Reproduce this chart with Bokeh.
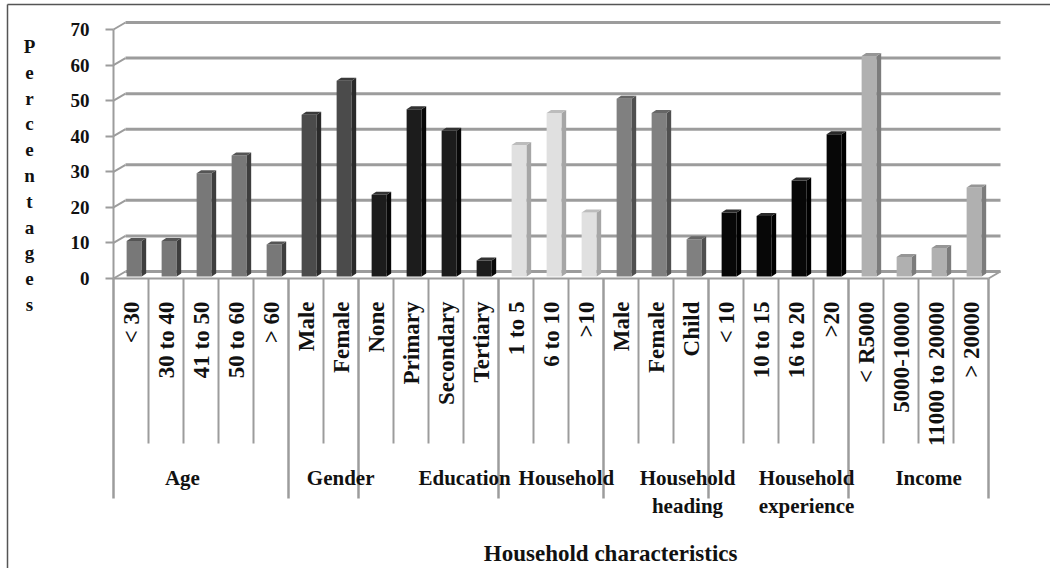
from math import pi
from bokeh.plotting import figure
from bokeh.models import Range1d, LinearAxis, FixedTicker
from bokeh.core.properties import value
from bokeh.embed import file_html
from bokeh.resources import INLINE

# ---------------- data ----------------
categories = ["< 30", "30 to 40", "41 to 50", "50 to 60", "> 60",
              "Male", "Female",
              "None", "Primary", "Secondary", "Tertiary",
              "1 to 5", "6 to 10", ">10",
              "Male", "Female", "Child",
              "< 10", "10 to 15", "16 to 20", ">20",
              "< R5000", "5000-10000", "11000 to 20000", "> 20000"]
values = [10, 10, 29, 34, 9,
          45.5, 55,
          23, 47, 41, 4.5,
          37, 46, 18,
          50, 46, 10.5,
          18, 17, 27, 40,
          62, 5.5, 8, 25]
groups = ["Age", "Gender", "Education", "Household", "Household\nheading",
          "Household\nexperience", "Income"]
group_sizes = [5, 2, 4, 3, 3, 4, 4]
y_ticks = [0, 10, 20, 30, 40, 50, 60, 70]
y_label = "Percentages"
x_title = "Household  characteristics"

# ---------------- style ----------------
group_front = ["#787878", "#4b4b4b", "#1c1c1c", "#e0e0e0", "#808080", "#070707", "#b0b0b0"]
group_side = ["#3e3e3e", "#2a2a2a", "#080808", "#a6a6a6", "#505050", "#000000", "#7c7c7c"]
group_top = ["#555555", "#3a3a3a", "#333333", "#bcbcbc", "#666666", "#2a2a2a", "#969696"]
group_label_nudge = [-0.53, 0.49, 1.03, 0.44, 0.9, 0.8, 0.29]
FONT = value("Liberation Serif")
GRID = "#9c9c9c"
INK = "#111111"

W, H = 1050, 568
AXIS_PX = 113             # canvas x of the value axis
PX_X = 35.0
Y0 = 278.0
PX_Y = 3.557


def dx(px):
    return px / PX_X


def dy(px):
    return px / PX_Y


def ydata(cy):
    return (Y0 - cy) / PX_Y


def xdata(cx):
    return (cx - AXIS_PX) / PX_X


n = len(categories)
p = figure(width=W, height=H,
           x_range=Range1d(xdata(0), xdata(W)),
           y_range=Range1d(ydata(H), ydata(0)),
           output_backend="svg", toolbar_location=None,
           x_axis_location=None, y_axis_location=None,
           min_border_left=0, min_border_right=0,
           min_border_top=0, min_border_bottom=0)
p.grid.visible = False
p.outline_line_color = None
p.background_fill_color = "white"
p.border_fill_color = "white"

# ---------------- picture frame (left + top border) ----------------
p.segment(x0=[xdata(7), xdata(7)], y0=[ydata(4), ydata(4)],
          x1=[xdata(7), xdata(W)], y1=[ydata(H), ydata(4)],
          line_color="#555555", line_width=1.5)

# ---------------- 3D walls ----------------
WDX, WDY = dx(12), dy(7)
p.segment(x0=[WDX] * len(y_ticks), y0=[t + WDY for t in y_ticks],
          x1=[n + WDX] * len(y_ticks), y1=[t + WDY for t in y_ticks],
          line_color=GRID, line_width=3)
p.segment(x0=[0] * len(y_ticks), y0=y_ticks,
          x1=[WDX] * len(y_ticks), y1=[t + WDY for t in y_ticks],
          line_color=GRID, line_width=2)
p.segment(x0=[0, n], y0=[0, 0], x1=[n, n + WDX], y1=[0, WDY],
          line_color=GRID, line_width=2)

# ---------------- y axis ----------------
yax = LinearAxis(ticker=FixedTicker(ticks=y_ticks), bounds=(0, 70),
                 fixed_location=0,
                 axis_line_color=GRID, axis_line_width=2,
                 major_tick_out=8, major_tick_in=0,
                 major_tick_line_color=GRID, major_tick_line_width=2,
                 minor_tick_line_color=None,
                 major_label_text_font="Liberation Serif",
                 major_label_text_font_style="bold",
                 major_label_text_font_size="19px",
                 major_label_text_color=INK,
                 major_label_standoff=16)
p.add_layout(yax, "left")

# ---------------- bars ----------------
bar_colors_f, bar_colors_s, bar_colors_t = [], [], []
for gi, sz in enumerate(group_sizes):
    bar_colors_f += [group_front[gi]] * sz
    bar_colors_s += [group_side[gi]] * sz
    bar_colors_t += [group_top[gi]] * sz

BAR_W, BAR_SHIFT = 0.43, 0.09
SDX, SDY = dx(4.5), dy(3)
LIFT = dy(2)
lefts = [i + 0.5 + BAR_SHIFT - BAR_W / 2 for i in range(n)]
rights = [i + 0.5 + BAR_SHIFT + BAR_W / 2 for i in range(n)]
tops = [v + LIFT for v in values]

p.quad(left=lefts, right=rights, bottom=[LIFT] * n, top=tops,
       fill_color=bar_colors_f, line_color=None)
side_xs = [[r, r, r + SDX, r + SDX] for r in rights]
side_ys = [[LIFT, t, t + SDY, LIFT + SDY] for t in tops]
p.patches(side_xs, side_ys, fill_color=bar_colors_s, line_color=None)
top_xs = [[l, r, r + SDX, l + SDX] for l, r in zip(lefts, rights)]
top_ys = [[t, t, t + SDY, t + SDY] for t in tops]
p.patches(top_xs, top_ys, fill_color=bar_colors_t, line_color=None)

# ---------------- category axis (multi-level) ----------------
bounds = [0]
for sz in group_sizes:
    bounds.append(bounds[-1] + sz)
short = [k for k in range(1, n) if k not in bounds]
p.segment(x0=short, y0=[0] * len(short), x1=short, y1=[ydata(443)] * len(short),
          line_color=GRID, line_width=2)
p.segment(x0=bounds, y0=[0] * len(bounds), x1=bounds, y1=[ydata(498)] * len(bounds),
          line_color=GRID, line_width=2.5)

p.text(x=[i + 0.5 for i in range(n)], y=[ydata(301)] * n, text=categories,
       angle=pi / 2, text_align="right", text_baseline="middle",
       text_font=FONT, text_font_style="bold", text_font_size="23px",
       text_color=INK)

gcenters = [(bounds[i] + bounds[i + 1]) / 2 + group_label_nudge[i]
            for i in range(len(groups))]
p.text(x=gcenters, y=[ydata(465)] * len(groups), text=groups,
       text_align="center", text_baseline="top", text_line_height=1.2,
       text_font=FONT, text_font_style="bold", text_font_size="21px",
       text_color=INK)

p.text(x=[xdata(613)], y=[ydata(553)], text=[x_title],
       text_align="center", text_baseline="middle",
       text_font=FONT, text_font_style="bold", text_font_size="23px",
       text_color=INK)

# ---------------- y title (stacked letters) ----------------
p.text(x=[xdata(29)], y=[ydata(175)], text=["\n".join(y_label)],
       text_align="center", text_baseline="middle", text_line_height=1.23,
       text_font=FONT, text_font_style="bold", text_font_size="19px",
       text_color=INK)

open("out.html", "w").write(file_html(p, INLINE))
